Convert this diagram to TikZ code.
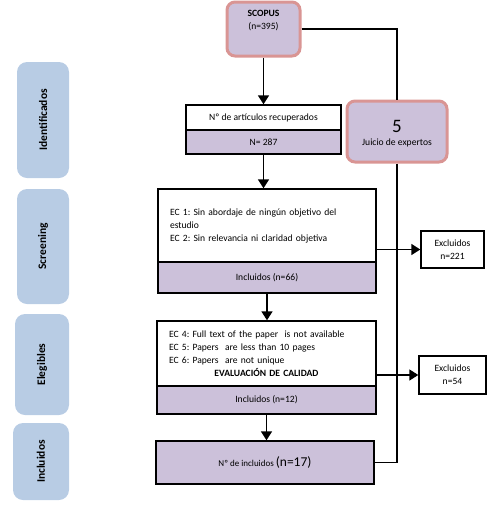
\documentclass[tikz,border=0pt]{standalone}
\usepackage{fontspec}
\setmainfont{Carlito}
\usetikzlibrary{arrows.meta}
\frenchspacing
\definecolor{lil}{HTML}{CCC1DA}
\definecolor{pinkb}{HTML}{D99594}
\definecolor{sideblue}{HTML}{B8CCE4}
\tikzset{
  base/.style={font=\fontsize{9.6}{13}\selectfont},
  wbox/.style={base, draw=black, line width=1.4pt, fill=white, inner sep=0pt, align=center},
  lbox/.style={wbox, fill=lil},
  pbox/.style={base, draw=pinkb, line width=3pt, fill=lil, rounded corners=8pt, inner sep=0pt},
  sidebox/.style={fill=sideblue, rounded corners=10pt, inner sep=0pt},
  sidetxt/.style={font=\fontsize{11.5}{13}\selectfont\bfseries, rotate=90},
  conn/.style={line width=1.5pt},
  arr/.style={conn, -{Triangle[width=11pt,length=9pt]}},
}
\begin{document}
\begin{tikzpicture}[x=1pt,y=-1pt]
\useasboundingbox (0,0) rectangle (493,507);
% side labels
\node[sidebox, minimum width=52pt, minimum height=116pt] (sid) at (43,120) {};
\node[sidetxt] (sidt) at (sid.center) {Identificados};
\node[sidebox, minimum width=52pt, minimum height=115pt] (ssc) at (43,246.5) {};
\node[sidetxt] (ssct) at (ssc.center) {Screening};
\node[sidebox, minimum width=54pt, minimum height=101pt] (sel) at (42,364.5) {};
\node[sidetxt] (selt) at (sel.center) {Elegibles};
\node[sidebox, minimum width=56pt, minimum height=77pt] (sin) at (41,461.5) {};
\node[sidetxt] (sint) at (sin.center) {Incluidos};
% scopus
\node[pbox, minimum width=73pt, minimum height=54pt] (scopus) at (263.5,29) {};
\node[base, align=center, inner sep=0pt] (scopust) at (263.5,21) {\textbf{SCOPUS}\\(n=395)};
% juicio
\node[pbox, minimum width=100pt, minimum height=61pt] (juicio) at (397,131.5) {};
\node[base, font=\fontsize{19}{19}\selectfont, inner sep=0pt] (juicio5) at (397,126) {5};
\node[base, inner sep=0pt] (juiciot) at (397,143) {Juicio de expertos};
% articulos
\node[wbox, minimum width=155pt, minimum height=25pt] (nart) at (263.5,117.5) {Nº de artículos recuperados};
\node[lbox, minimum width=155pt, minimum height=24pt] (nartb) at (263.5,142) {N= 287};
% screening
\node[wbox, minimum width=218pt, minimum height=73pt, text width=194pt, align=left] (scr) at (267,225.5)
  {EC 1: Sin abordaje de ningún objetivo del\\estudio\\EC 2: Sin relevancia ni claridad objetiva};
\node[lbox, minimum width=218pt, minimum height=31pt] (scrb) at (267,277.5) {Incluidos (n=66)};
\node[wbox, minimum width=63pt, minimum height=37pt] (ex1) at (452.5,249.5) {Excluidos\\n=221};
% elegibles
\node[wbox, minimum width=219pt, minimum height=65pt, text width=195pt, align=left] (el) at (266.5,353.5)
  {EC 4: Full text of the paper\ \ is not available\\EC 5: Papers\ \ are less than 10 pages\\EC 6: Papers\ \ are not unique\\\makebox[195pt]{\textbf{EVALUACIÓN DE CALIDAD}}};
\node[lbox, minimum width=219pt, minimum height=28pt] (elb) at (266.5,400) {Incluidos (n=12)};
\node[wbox, minimum width=67pt, minimum height=38pt] (ex2) at (452.5,375) {Excluidos\\n=54};
% incluidos
\node[lbox, minimum width=218pt, minimum height=43pt] (ninc) at (265,462.5)
  {\fontsize{9}{10}\selectfont Nº de incluidos \fontsize{13.5}{14}\selectfont(n=17)};
% connectors
\draw[arr] (scopus.south) -- (scopus.south |- nart.north);
\draw[arr] (nartb.south) -- (nartb.south |- scr.north);
\draw[arr] (scrb.south) -- (scrb.south |- el.north);
\draw[arr] (elb.south) -- (elb.south |- ninc.north);
\draw[conn] (scopus.east) -| (juicio.north);
\draw[conn] (juicio.south) |- (ninc.east);
\draw[arr] (scr.east |- ex1.west) -- (ex1.west);
\draw[arr] (el.east |- ex2.west) -- (ex2.west);
\end{tikzpicture}
\end{document}
